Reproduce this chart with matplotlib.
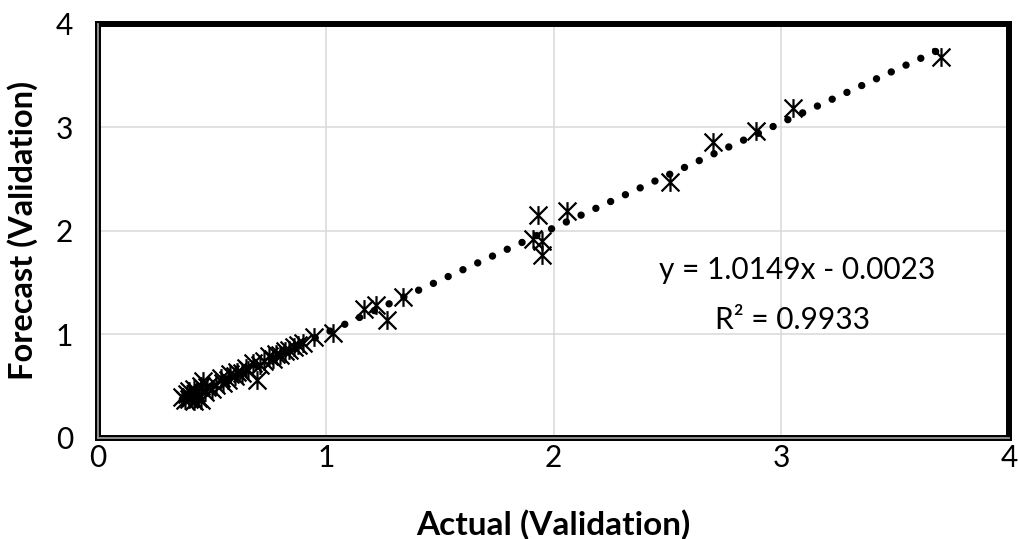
import numpy as np
import matplotlib
matplotlib.use("Agg")
import matplotlib.pyplot as plt
from matplotlib.path import Path
from matplotlib.lines import Line2D

# ---- data ----
actual = [0.37, 0.38, 0.39, 0.40, 0.40, 0.41, 0.42, 0.42, 0.43, 0.44,
          0.45, 0.45, 0.46, 0.47, 0.48, 0.50, 0.52, 0.54, 0.55, 0.57,
          0.58, 0.60, 0.61, 0.63, 0.65, 0.66, 0.68, 0.70, 0.71, 0.73,
          0.75, 0.77, 0.78, 0.80, 0.82, 0.84, 0.86, 0.88, 0.90, 0.95,
          1.03, 1.17, 1.22, 1.27, 1.34,
          1.91, 1.93, 1.95, 1.95, 2.06,
          2.51, 2.70, 2.89, 3.05, 3.70]
forecast = [0.40, 0.37, 0.42, 0.38, 0.45, 0.40, 0.47, 0.36, 0.43, 0.39,
            0.50, 0.37, 0.55, 0.44, 0.49, 0.47, 0.51, 0.58, 0.53, 0.56,
            0.62, 0.60, 0.64, 0.63, 0.68, 0.66, 0.72, 0.56, 0.70, 0.74,
            0.79, 0.76, 0.81, 0.80, 0.84, 0.85, 0.88, 0.90, 0.92, 0.97,
            1.01, 1.24, 1.28, 1.14, 1.36,
            1.92, 2.15, 1.90, 1.77, 2.19,
            2.47, 2.86, 2.96, 3.18, 3.68]
slope = 1.0149
intercept = -0.0023
r_squared = 0.9933
ticks = [0, 1, 2, 3, 4]

plt.rcParams['font.family'] = ['Lato', 'DejaVu Sans']

fig = plt.figure(figsize=(10.19, 5.39), dpi=100)
ax = fig.add_axes([0.0962, 0.1874, 0.8940, 0.7690])

# asterisk marker: X plus vertical bar
star = Path([(-1, -1), (1, 1), (-1, 1), (1, -1), (0, -1.05), (0, 1.05)],
            [Path.MOVETO, Path.LINETO, Path.MOVETO, Path.LINETO, Path.MOVETO, Path.LINETO])

ax.plot(actual, forecast, linestyle='none', marker=star, markersize=13.5,
        markeredgewidth=1.6, color='black', zorder=3)

# trendline across data range
xs = np.array([min(actual), max(actual)])
ax.plot(xs, slope * xs + intercept, color='black', linewidth=5.3,
        linestyle=(0, (0.01, 2.2)), dash_capstyle='round', zorder=4)

ax.text(3.07, 1.62, f"y = {slope:.4f}x - {abs(intercept):.4f}",
        ha='center', va='center', fontsize=21.5)
ax.text(3.05, 1.14, f"R² = {r_squared:.4f}",
        ha='center', va='center', fontsize=21.5)

ax.set_xlim(0, 4)
ax.set_ylim(0, 4)
ax.set_xticks(ticks)
ax.set_yticks(ticks)
ax.set_xticklabels([str(t) for t in ticks])
ax.set_yticklabels([str(t) for t in ticks])
ax.tick_params(length=0, labelsize=21.5)
ax.tick_params(axis='y', pad=18)
ax.tick_params(axis='x', pad=4)
ax.grid(True, color='#d9d9d9', linewidth=1.1)
ax.set_axisbelow(True)

for s in ax.spines.values():
    s.set_color('black')
    s.set_linewidth(4.3)

# double-line effect on left and bottom
for (x0, x1, y0, y1) in [(0, 0, 0, 1), (0, 1, 0, 0)]:
    ax.add_line(Line2D([x0, x1], [y0, y1], transform=ax.transAxes,
                       color='#9a9a9a', linewidth=1.3, clip_on=False, zorder=10))

ax.set_xlabel('Actual (Validation)', fontsize=24, fontweight='bold', labelpad=27)
ax.set_ylabel('Forecast (Validation)', fontsize=23.5, fontweight='bold', labelpad=13)

fig.savefig('out.png', dpi=100)
